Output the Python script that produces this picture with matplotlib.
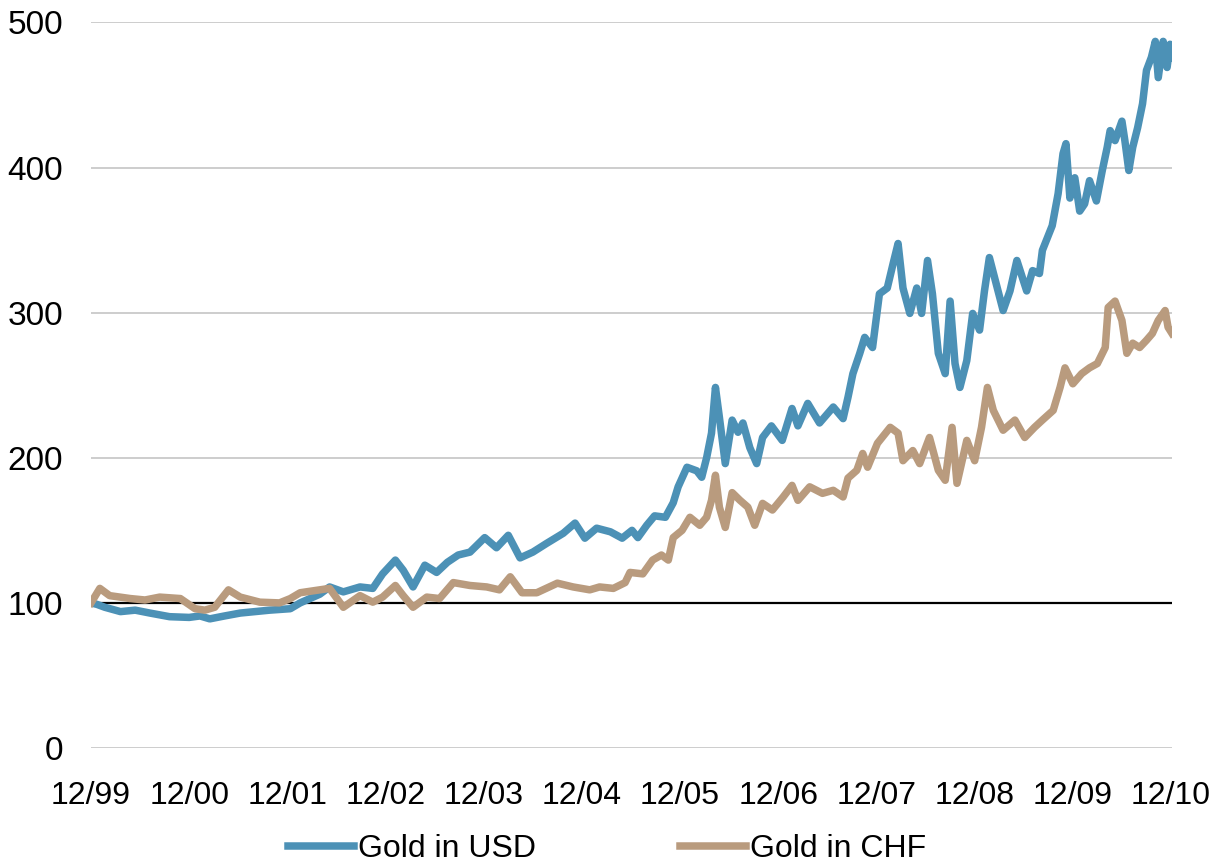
import matplotlib
matplotlib.use("Agg")
import matplotlib.pyplot as plt

plt.rcParams.update({"font.family": ["Liberation Sans", "DejaVu Sans"]})

# years since end of Dec 1999, index level (12/99 = 100)
usd_t = [0.00, 0.06, 0.14, 0.30, 0.45, 0.60, 0.80, 1.00, 1.11, 1.21, 1.36, 1.52,
         1.67, 1.82, 2.03, 2.13, 2.23, 2.33, 2.43, 2.57, 2.64, 2.74, 2.87, 2.97,
         3.10, 3.18, 3.28, 3.40, 3.52, 3.63, 3.74, 3.86, 4.01, 4.13, 4.25, 4.37,
         4.50, 4.64, 4.81, 4.93, 5.03, 5.15, 5.29, 5.41, 5.51, 5.57, 5.66, 5.74,
         5.85, 5.93, 5.98, 6.07, 6.17, 6.22, 6.27, 6.32, 6.36, 6.40, 6.46, 6.53,
         6.59, 6.64, 6.71, 6.78, 6.84, 6.93, 7.04, 7.14, 7.20, 7.30, 7.42, 7.56,
         7.66, 7.71, 7.76, 7.83, 7.88, 7.96, 8.03, 8.11, 8.17, 8.22, 8.27, 8.34,
         8.41, 8.46, 8.52, 8.57, 8.63, 8.70, 8.75, 8.80, 8.85, 8.92, 8.98, 9.05,
         9.10, 9.15, 9.23, 9.29, 9.36, 9.43, 9.53, 9.59, 9.66, 9.69, 9.79, 9.85,
         9.90, 9.93, 9.97, 10.02, 10.07, 10.12, 10.17, 10.24, 10.30, 10.35, 10.38,
         10.43, 10.50, 10.53, 10.57, 10.61, 10.66, 10.71, 10.75, 10.80, 10.84,
         10.87, 10.92, 10.96, 10.99, 11.02]
usd = [100, 99, 97, 94, 95, 93, 90.5, 90, 91, 89, 91, 93,
       94, 95, 96, 100, 103, 106, 111, 107.6, 109, 111, 110, 120,
       129.5, 122.5, 111, 126, 121, 128, 133, 135, 145, 138, 146.6, 131,
       135, 141, 148, 155, 144.6, 151.5, 149, 144.6, 150, 145, 153.5, 160,
       159, 169, 180, 193.5, 191, 186.6, 200, 217, 248.5, 228, 196, 226,
       217.6, 224, 207, 196, 214, 222, 212, 234, 222, 237.5, 224, 235,
       227, 241.7, 258, 272, 283, 276, 313, 317, 334, 347.7, 317, 299.5,
       317, 299.5, 336, 313, 272, 258, 308, 265, 248.5, 267, 299.5, 288,
       315, 338, 317, 301.5, 315, 336, 315, 329, 327, 343, 360, 382,
       409.6, 416.5, 379, 393, 370, 375, 391, 377, 398, 414, 425.5,
       418.6, 432, 418.6, 398, 414, 427.5, 444, 467, 476, 487,
       462, 487, 469, 485, 476]

chf_t = [0.00, 0.09, 0.19, 0.40, 0.55, 0.70, 0.91, 1.06, 1.16, 1.26, 1.40, 1.52,
         1.72, 1.92, 2.03, 2.13, 2.33, 2.43, 2.57, 2.74, 2.87, 2.97, 3.10, 3.18,
         3.28, 3.42, 3.55, 3.69, 3.86, 4.03, 4.16, 4.27, 4.39, 4.54, 4.75, 4.91,
         5.08, 5.18, 5.32, 5.44, 5.49, 5.62, 5.72, 5.81, 5.88, 5.93, 6.02, 6.10,
         6.20, 6.27, 6.32, 6.36, 6.40, 6.46, 6.53, 6.61, 6.69, 6.76, 6.84, 6.94,
         7.05, 7.14, 7.20, 7.32, 7.45, 7.56, 7.66, 7.71, 7.80, 7.86, 7.91, 8.01,
         8.14, 8.22, 8.27, 8.37, 8.44, 8.54, 8.63, 8.70, 8.77, 8.82, 8.92, 9.00,
         9.07, 9.13, 9.19, 9.29, 9.41, 9.51, 9.61, 9.69, 9.80, 9.87, 9.92, 10.00,
         10.09, 10.17, 10.25, 10.33, 10.36, 10.43, 10.50, 10.55, 10.61, 10.68,
         10.75, 10.81, 10.87, 10.94, 10.97, 11.01]
chf = [100, 110, 105, 103, 102, 104, 103, 96, 95, 97, 109, 104,
       100.5, 100, 103, 107, 109, 110, 97, 105, 100.5, 104, 112, 105,
       97, 104, 103, 114, 112, 111, 109, 118, 107, 107, 113.6, 111,
       109, 111, 110, 114, 121, 120, 129.5, 133, 129.5, 145, 150, 159,
       153.5, 159, 170.7, 188, 166, 152, 176, 170.7, 166, 153.5, 168.6, 164,
       173, 181, 170.7, 180, 175.5, 177.6, 173, 186, 191.4, 203, 193.5, 210,
       221, 217, 198, 205, 196, 214, 191.4, 184.5, 221, 182.4, 212, 198,
       221, 248.5, 232.7, 219, 226, 214, 221, 226, 232.7, 248.5, 262, 251,
       258, 262, 265, 276, 303.6, 308, 294.7, 272, 279, 276,
       281, 285.7, 294.7, 301.5, 290, 285.7]

tick_years = list(range(12))
tick_labels = ["12/99", "12/00", "12/01", "12/02", "12/03", "12/04",
               "12/05", "12/06", "12/07", "12/08", "12/09", "12/10"]

BLUE, TAN = "#4C91B6", "#B99B7E"
FS = 23

fig = plt.figure(figsize=(12.13, 8.63), dpi=100)
ax = fig.add_axes([91 / 1213, 1 - 748 / 863, (1172 - 91) / 1213, (748 - 22.5) / 863])

for y in [0, 200, 300, 400, 500]:
    ax.axhline(y, color="#C9C9C9", lw=1.3, zorder=1)
ax.axhline(100, color="black", lw=1.6, zorder=1)

ax.plot(usd_t, usd, color=BLUE, lw=5.4, solid_joinstyle="round", zorder=3, label="Gold in USD")
ax.plot(chf_t, chf, color=TAN, lw=5.4, solid_joinstyle="round", zorder=4, label="Gold in CHF")

ax.set_xlim(0, 11.01)
ax.set_ylim(0, 500)
ax.set_yticks([0, 100, 200, 300, 400, 500])
ax.set_xticks(tick_years)
ax.set_xticklabels(tick_labels)
ax.tick_params(axis="x", length=0, labelsize=FS, pad=24)
ax.tick_params(axis="y", length=0, labelsize=FS + 1, pad=20)
for s in ax.spines.values():
    s.set_visible(False)

fig.legend(loc="center", bbox_to_anchor=(607 / 1213, 1 - 849 / 863), ncol=2,
           frameon=False, fontsize=FS, handlelength=2.07, handletextpad=0.12,
           columnspacing=4.5, borderaxespad=0)

fig.savefig("out.png", dpi=100, facecolor="white")
